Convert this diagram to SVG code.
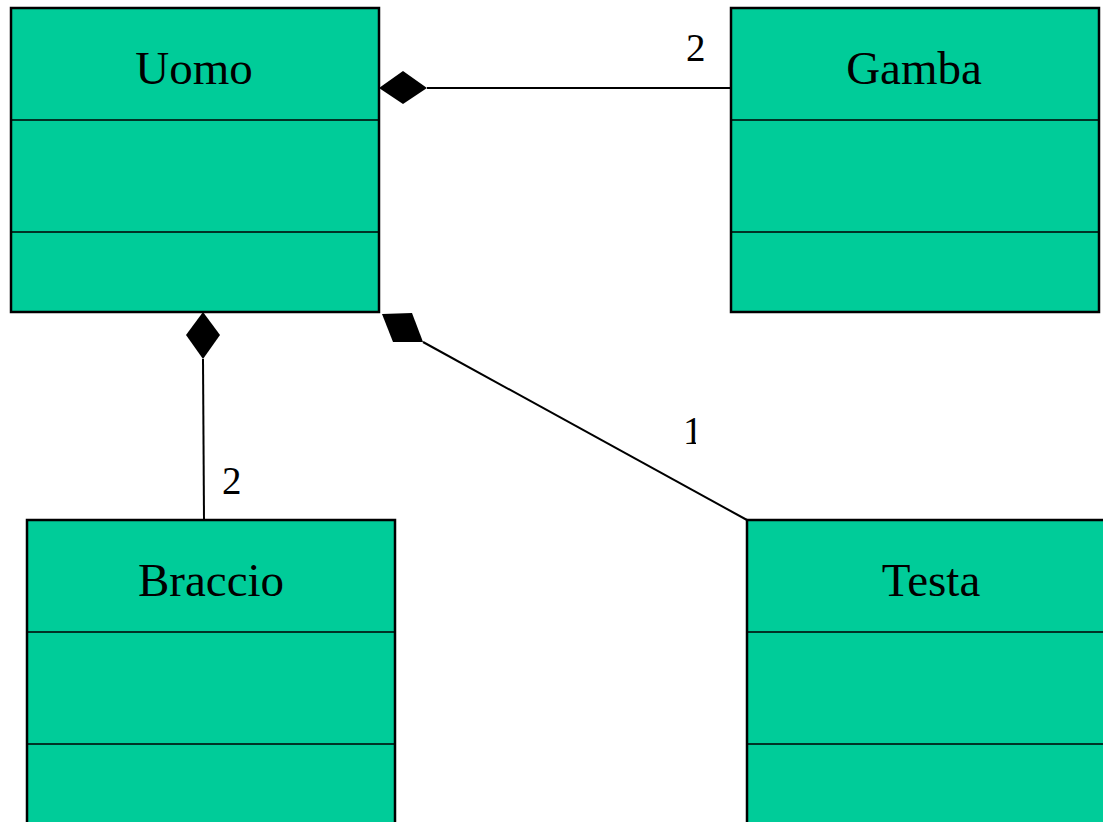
<svg xmlns="http://www.w3.org/2000/svg" width="1103" height="822" viewBox="0 0 1103 822">
<defs>
<style>
.box{fill:#00cc99;stroke:#000;stroke-width:2.5}
.div{stroke:#000;stroke-width:1.5}
.name{font-family:"Liberation Serif",serif;font-size:47px;fill:#000;text-anchor:middle}
.mult{font-family:"Liberation Serif",serif;font-size:39px;fill:#000}
.conn{stroke:#000;stroke-width:2;fill:none}
.dia{fill:#000;stroke:none}
</style>
<clipPath id="clip1"><rect x="600" y="380" width="96" height="100"/></clipPath>
</defs>
<rect width="1103" height="822" fill="#fff"/>
<g id="Uomo">
<rect class="box" x="11" y="8" width="368" height="304"/>
<line class="div" x1="11" y1="120" x2="379" y2="120"/>
<line class="div" x1="11" y1="232" x2="379" y2="232"/>
<text class="name" x="194" y="84">Uomo</text>
</g>
<g id="Gamba">
<rect class="box" x="731" y="8" width="368" height="304"/>
<line class="div" x1="731" y1="120" x2="1099" y2="120"/>
<line class="div" x1="731" y1="232" x2="1099" y2="232"/>
<text class="name" x="914" y="84">Gamba</text>
</g>
<g id="Braccio">
<rect class="box" x="27" y="520" width="368" height="310"/>
<line class="div" x1="27" y1="632" x2="395" y2="632"/>
<line class="div" x1="27" y1="744" x2="395" y2="744"/>
<text class="name" x="211" y="596">Braccio</text>
</g>
<g id="Testa">
<rect class="box" x="747" y="520" width="368" height="310"/>
<line class="div" x1="747" y1="632" x2="1103" y2="632"/>
<line class="div" x1="747" y1="744" x2="1103" y2="744"/>
<text class="name" x="931" y="596">Testa</text>
</g>
<g id="connectors">
<line class="conn" x1="427" y1="88" x2="731" y2="88"/>
<polygon class="dia" points="379,88 403,71 427,88 403,104"/>
<text class="mult" x="686" y="61">2</text>
<line class="conn" x1="203" y1="359" x2="204" y2="520"/>
<polygon class="dia" points="203,312 220,335 203,359 186,335"/>
<text class="mult" x="222" y="494">2</text>
<line class="conn" x1="423" y1="342" x2="747" y2="520"/>
<polygon class="dia" points="382,314 412,313 423,342 393,342"/>
<text class="mult" x="683" y="444" clip-path="url(#clip1)">1</text>
</g>
</svg>
